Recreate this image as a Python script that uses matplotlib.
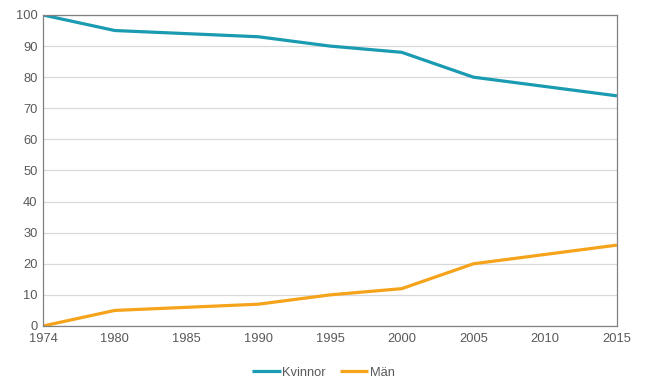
import matplotlib
matplotlib.use('Agg')
import matplotlib.pyplot as plt
import numpy as np

years = ['1974', '1980', '1985', '1990', '1995', '2000', '2005', '2010', '2015']
kvinnor = [100, 95, 94, 93, 90, 88, 80, 77, 74]
man = [0, 5, 6, 7, 10, 12, 20, 23, 26]

TEAL = '#1A9BB2'
ORANGE = '#F5A31B'
TEXT = '#595959'
GRID = '#D9D9D9'
SPINE = '#808080'

plt.rcParams['font.family'] = ['Liberation Sans', 'DejaVu Sans']

fig = plt.figure(figsize=(6.47, 3.89), dpi=100)
ax = fig.add_axes([0.0665, 0.162, 0.887, 0.7995])

x = np.arange(len(years))
ax.plot(x, kvinnor, color=TEAL, lw=2.3, label='Kvinnor', solid_capstyle='butt')
ax.plot(x, man, color=ORANGE, lw=2.3, label='Män', solid_capstyle='butt')

ax.set_xlim(0, len(years) - 1)
ax.set_ylim(0, 100)
ax.set_xticks(x)
ax.set_xticklabels(years)
ax.set_yticks(np.arange(0, 101, 10))
ax.yaxis.grid(True, color=GRID, lw=0.9)
ax.set_axisbelow(True)
ax.tick_params(length=0, labelsize=9.3, colors=TEXT, pad=4)
ax.tick_params(axis='x', pad=5)
for s in ax.spines.values():
    s.set_color(SPINE)
    s.set_linewidth(0.9)

fig.legend(loc='lower center', bbox_to_anchor=(0.5, -0.003), ncol=2,
           frameon=False, fontsize=9.3, labelcolor=TEXT, handlelength=2.2,
           handletextpad=0.1, columnspacing=1.1)

fig.savefig('out.png', dpi=100)
